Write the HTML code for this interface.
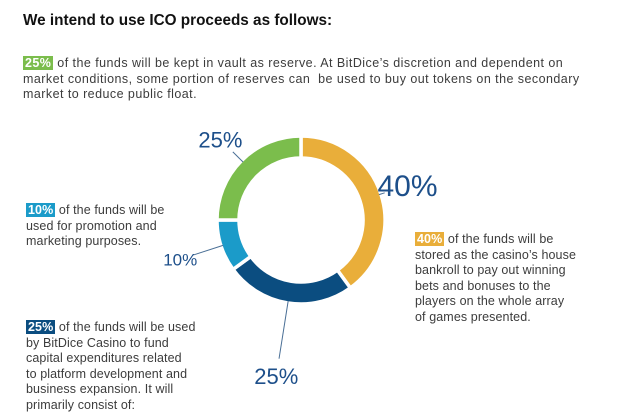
<!DOCTYPE html>
<html><head><meta charset="utf-8"><style>
body{margin:0;width:640px;height:419px;background:#fff;position:relative;overflow:hidden;font-family:"Liberation Sans",sans-serif;color:#3c3c3c}
.t{position:absolute;font-size:12.5px;line-height:15.6px;letter-spacing:0.1px}
.tag{color:#fff;font-weight:bold;padding:0 2px}
h1{position:absolute;left:23px;top:12px;margin:0;font-size:15.3px;font-weight:bold;color:#111}
</style></head><body>
<h1>We intend to use ICO proceeds as follows:</h1>
<div class="t" style="left:23px;top:56px;width:600px;letter-spacing:0.45px"><span class="tag" style="background:#7bbd4c">25%</span> of the funds will be kept in vault as reserve. At BitDice’s discretion and dependent on<br>market conditions, some portion of reserves can&nbsp; be used to buy out tokens on the secondary<br>market to reduce public float.</div>
<div class="t" style="left:26px;top:203px"><span class="tag" style="background:#1b9bc9">10%</span> of the funds will be<br>used for promotion and<br>marketing purposes.</div>
<div class="t" style="left:415px;top:232px"><span class="tag" style="background:#e9ae3a">40%</span> of the funds will be<br>stored as the casino’s house<br>bankroll to pay out winning<br>bets and bonuses to the<br>players on the whole array<br>of games presented.</div>
<div class="t" style="left:26px;top:320px"><span class="tag" style="background:#0b4d80">25%</span> of the funds will be used<br>by BitDice Casino to fund<br>capital expenditures related<br>to platform development and<br>business expansion. It will<br>primarily consist of:</div>
<svg id="chart" width="640" height="419" style="position:absolute;left:0;top:0"></svg>
<script>
const categories=["Bankroll","Development","Marketing","Reserve"];
const values=[40,25,10,25];
const labels=["40%","25%","10%","25%"];
const colors=["#e9ae3a","#0b4d80","#1b9bc9","#7bbd4c"];
const labelDist=[112,158,127,114];
const labelSize=[30,22,17,22];
const cx=301,cy=220,R=84,r=62;
const svg=document.getElementById('chart');
const NS="http://www.w3.org/2000/svg";
const total=values.reduce((a,b)=>a+b,0);
function pt(a,rad){return [cx+rad*Math.sin(a),cy-rad*Math.cos(a)];}
let a0=0;
values.forEach((v,i)=>{
  const a1=a0+v/total*2*Math.PI;
  const large=(a1-a0)>Math.PI?1:0;
  const p1=pt(a0,R),p2=pt(a1,R),p3=pt(a1,r),p4=pt(a0,r);
  const p=document.createElementNS(NS,'path');
  p.setAttribute('d',`M${p1}A${R},${R} 0 ${large} 1 ${p2}L${p3}A${r},${r} 0 ${large} 0 ${p4}Z`);
  p.setAttribute('fill',colors[i]);p.setAttribute('stroke','#fff');p.setAttribute('stroke-width','3.5');
  
  
  svg.appendChild(p);
  const m=(a0+a1)/2;
  const l1=pt(m,R-2),l2=pt(m,labelDist[i]-labelSize[i]*0.8);
  const ln=document.createElementNS(NS,'line');
  ln.setAttribute('x1',l1[0]);ln.setAttribute('y1',l1[1]);ln.setAttribute('x2',l2[0]);ln.setAttribute('y2',l2[1]);
  ln.setAttribute('stroke','#4a6f96');ln.setAttribute('stroke-width','1');
  
  
  svg.appendChild(ln);
  const lp=pt(m,labelDist[i]);
  const t=document.createElementNS(NS,'text');
  t.setAttribute('x',lp[0]);t.setAttribute('y',lp[1]+labelSize[i]*0.36);
  t.setAttribute('text-anchor','middle');t.setAttribute('font-size',labelSize[i]);
  t.setAttribute('fill','#1d4f8a');t.setAttribute('font-family','Liberation Sans, sans-serif');
  t.textContent=labels[i];
  
  
  svg.appendChild(t);
  a0=a1;
});
</script>
</body></html>
